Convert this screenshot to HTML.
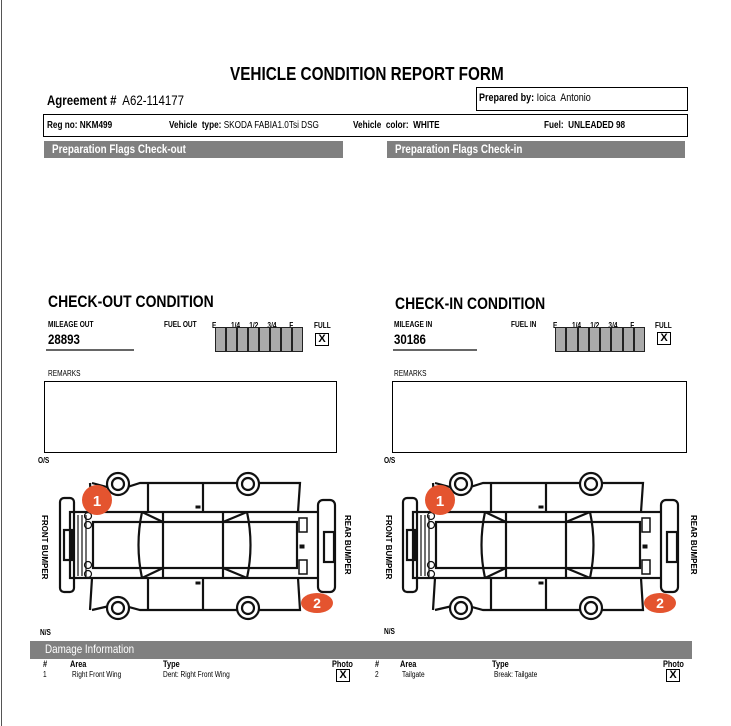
<!DOCTYPE html>
<html><head><meta charset="utf-8">
<style>
body{margin:0;width:731px;height:726px;background:#fff;position:relative;overflow:hidden;font-family:"Liberation Sans",Arial,sans-serif;color:#000}
.a{position:absolute;white-space:nowrap}
.b{font-weight:bold}
.n{transform-origin:0 0;transform:scaleX(.82)}
.box{position:absolute;border:1px solid #000;box-sizing:border-box}
.bar{position:absolute;background:#808080;color:#fff;font-weight:bold;font-size:12px;line-height:17px;height:17px;box-sizing:border-box}
.xb{position:absolute;border:1.5px solid #000;width:14px;height:13px;box-sizing:border-box;font-weight:bold;font-size:11px;line-height:11px;text-align:center}
.g{position:absolute;height:25px;background:#aaa;border:1.5px solid #222;box-sizing:border-box;display:flex}
.g i{flex:1;border-right:2.5px solid #222}
.g i:last-child{border-right:0}
.s{font-size:8px}
</style></head><body>
<div style="position:absolute;left:1px;top:0;width:1px;height:726px;background:#555"></div>

<div class="a b" style="left:230px;top:64px;font-size:18px;transform:scaleX(.85);transform-origin:0 0">VEHICLE CONDITION REPORT FORM</div>
<div class="a n" style="left:47px;top:92px;font-size:14px"><b>Agreement #</b>&nbsp; A62-114177</div>
<div class="box" style="left:476px;top:87px;width:212px;height:24px"></div>
<div class="a n" style="left:479px;top:92px;font-size:11px"><b>Prepared by:</b> Ioica&nbsp; Antonio</div>
<div class="box" style="left:43px;top:114px;width:645px;height:23px"></div>
<div class="a n b" style="left:47px;top:120px;font-size:10px">Reg no: NKM499</div>
<div class="a n" style="left:169px;top:120px;font-size:10px"><b>Vehicle&nbsp; type:</b> SKODA FABIA1.0Tsi DSG</div>
<div class="a n b" style="left:353px;top:120px;font-size:10px">Vehicle&nbsp; color:&nbsp; WHITE</div>
<div class="a n b" style="left:544px;top:120px;font-size:10px">Fuel:&nbsp; UNLEADED 98</div>
<div class="bar" style="left:44px;top:141px;width:299px"><span class="a n" style="left:8px;top:0">Preparation Flags Check-out</span></div>
<div class="bar" style="left:387px;top:141px;width:298px"><span class="a n" style="left:8px;top:0">Preparation Flags Check-in</span></div>

<div class="a b n" style="left:48px;top:292px;font-size:17px">CHECK-OUT CONDITION</div>
<div class="a b n" style="left:395px;top:294px;font-size:17px">CHECK-IN CONDITION</div>

<div class="a b n s" style="left:48px;top:320px">MILEAGE OUT</div>
<div class="a b n" style="left:48px;top:331px;font-size:14px">28893</div>
<div style="position:absolute;left:46px;top:349px;width:88px;height:2px;background:#666"></div>
<div class="a b n s" style="left:164px;top:320px">FUEL OUT</div>
<div class="a b n s" style="left:212px;top:321px">E&nbsp;&nbsp;&nbsp;&nbsp;&nbsp;&nbsp;&nbsp;&nbsp;1/4&nbsp;&nbsp;&nbsp;&nbsp;&nbsp;1/2&nbsp;&nbsp;&nbsp;&nbsp;&nbsp;3/4&nbsp;&nbsp;&nbsp;&nbsp;&nbsp;&nbsp;&nbsp;F</div>
<div class="g" style="left:215px;top:327px;width:88px"><i></i><i></i><i></i><i></i><i></i><i></i><i></i><i></i></div>
<div class="a b n s" style="left:314px;top:321px">FULL</div>
<div class="xb" style="left:315px;top:333px">X</div>

<div class="a b n s" style="left:394px;top:320px">MILEAGE IN</div>
<div class="a b n" style="left:394px;top:331px;font-size:14px">30186</div>
<div style="position:absolute;left:393px;top:349px;width:84px;height:2px;background:#666"></div>
<div class="a b n s" style="left:511px;top:320px">FUEL IN</div>
<div class="a b n s" style="left:553px;top:321px">E&nbsp;&nbsp;&nbsp;&nbsp;&nbsp;&nbsp;&nbsp;&nbsp;1/4&nbsp;&nbsp;&nbsp;&nbsp;&nbsp;1/2&nbsp;&nbsp;&nbsp;&nbsp;&nbsp;3/4&nbsp;&nbsp;&nbsp;&nbsp;&nbsp;&nbsp;&nbsp;F</div>
<div class="g" style="left:555px;top:327px;width:90px"><i></i><i></i><i></i><i></i><i></i><i></i><i></i><i></i></div>
<div class="a b n s" style="left:655px;top:321px">FULL</div>
<div class="xb" style="left:657px;top:332px">X</div>

<div class="a n s" style="left:48px;top:369px">REMARKS</div>
<div class="box" style="left:44px;top:381px;width:293px;height:72px"></div>
<div class="a n s" style="left:394px;top:369px">REMARKS</div>
<div class="box" style="left:392px;top:381px;width:295px;height:72px"></div>

<div class="a b n s" style="left:38px;top:456px">O/S</div>
<div class="a b n s" style="left:40px;top:628px">N/S</div>
<div class="a b n s" style="left:384px;top:456px">O/S</div>
<div class="a b n s" style="left:384px;top:627px">N/S</div>

<svg style="position:absolute;left:0;top:0" width="731" height="726">
<defs>
<g id="car" fill="none" stroke="#111" stroke-width="2.2">
<path d="M92,483 L118,490 L140,483 L300,483 L298,512 M90,483 L92,512 M92,610 L118,604 L140,610 L300,610 L298,578 M90,610 L92,578"/>
<rect x="60" y="498" width="14" height="94" rx="4"/>
<rect x="64" y="530" width="8" height="30"/>
<rect x="70" y="512" width="250" height="66"/>
<rect x="93" y="522" width="204" height="46"/>
<path d="M142,512 Q135,545 142,578 M163,512 L163,578 M223,512 L223,578 M247,512 Q254,545 247,578 M142,512 L163,522 M142,578 L163,568 M247,512 L223,522 M247,578 L223,568"/>
<path d="M148,483 L148,512 M203,483 L203,512 M148,578 L148,610 M203,578 L203,610"/>
<circle cx="118" cy="484" r="11" fill="#fff"/><circle cx="118" cy="484" r="6"/>
<circle cx="248" cy="484" r="11" fill="#fff"/><circle cx="248" cy="484" r="6"/>
<circle cx="118" cy="608" r="11" fill="#fff"/><circle cx="118" cy="608" r="6"/>
<circle cx="248" cy="608" r="11" fill="#fff"/><circle cx="248" cy="608" r="6"/>
<path d="M74,515 L74,576 M78,515 L78,576 M82,515 L82,576 M86,515 L86,576" stroke-width="1.2"/>
<circle cx="88" cy="516" r="3.5" stroke-width="1.2"/><circle cx="88" cy="525" r="3.5" stroke-width="1.2"/>
<circle cx="88" cy="565" r="3.5" stroke-width="1.2"/><circle cx="88" cy="574" r="3.5" stroke-width="1.2"/>
<rect x="299" y="518" width="8" height="14" stroke-width="1.5"/>
<rect x="299" y="560" width="8" height="14" stroke-width="1.5"/>
<rect x="300" y="545" width="4" height="3" fill="#111" stroke-width="1"/>
<rect x="196" y="506" width="4" height="2" fill="#111" stroke-width="1"/>
<rect x="196" y="582" width="4" height="2" fill="#111" stroke-width="1"/>
<rect x="318" y="500" width="17" height="92" rx="5" fill="#fff"/>
<rect x="324" y="532" width="10" height="30"/>
<circle cx="97" cy="500" r="15" fill="#e4542f" stroke="none"/>
<text x="97" y="506" fill="#fff" stroke="none" font-size="15" font-weight="bold" text-anchor="middle" font-family="Liberation Sans,sans-serif">1</text>
<ellipse cx="317" cy="603" rx="16" ry="10" fill="#e4542f" stroke="none"/>
<text x="317" y="608" fill="#fff" stroke="none" font-size="14" font-weight="bold" text-anchor="middle" font-family="Liberation Sans,sans-serif">2</text>
</g>
</defs>
<use href="#car"/>
<use href="#car" transform="translate(343,0)"/>
<g font-family="Liberation Sans,sans-serif" font-size="8" font-weight="bold">
<text transform="translate(42,515) rotate(90)">FRONT BUMPER</text>
<text transform="translate(345,515) rotate(90)">REAR BUMPER</text>
<text transform="translate(386,515) rotate(90)">FRONT BUMPER</text>
<text transform="translate(691,515) rotate(90)">REAR BUMPER</text>
</g>
</svg>

<div class="bar" style="left:30px;top:641px;width:662px;height:18px;font-weight:normal"><span class="a n" style="left:15px;top:0;font-size:12px">Damage Information</span></div>
<div class="a b n" style="left:43px;top:659px;font-size:9px">#</div>
<div class="a b n" style="left:70px;top:659px;font-size:9px">Area</div>
<div class="a b n" style="left:163px;top:659px;font-size:9px">Type</div>
<div class="a b n" style="left:332px;top:659px;font-size:9px">Photo</div>
<div class="a b n" style="left:375px;top:659px;font-size:9px">#</div>
<div class="a b n" style="left:400px;top:659px;font-size:9px">Area</div>
<div class="a b n" style="left:492px;top:659px;font-size:9px">Type</div>
<div class="a b n" style="left:663px;top:659px;font-size:9px">Photo</div>
<div class="a n" style="left:43px;top:670px;font-size:8px">1</div>
<div class="a n" style="left:72px;top:670px;font-size:8px">Right Front Wing</div>
<div class="a n" style="left:163px;top:670px;font-size:8px">Dent: Right Front Wing</div>
<div class="xb" style="left:336px;top:669px">X</div>
<div class="a n" style="left:375px;top:670px;font-size:8px">2</div>
<div class="a n" style="left:402px;top:670px;font-size:8px">Tailgate</div>
<div class="a n" style="left:494px;top:670px;font-size:8px">Break: Tailgate</div>
<div class="xb" style="left:666px;top:669px">X</div>
</body></html>
